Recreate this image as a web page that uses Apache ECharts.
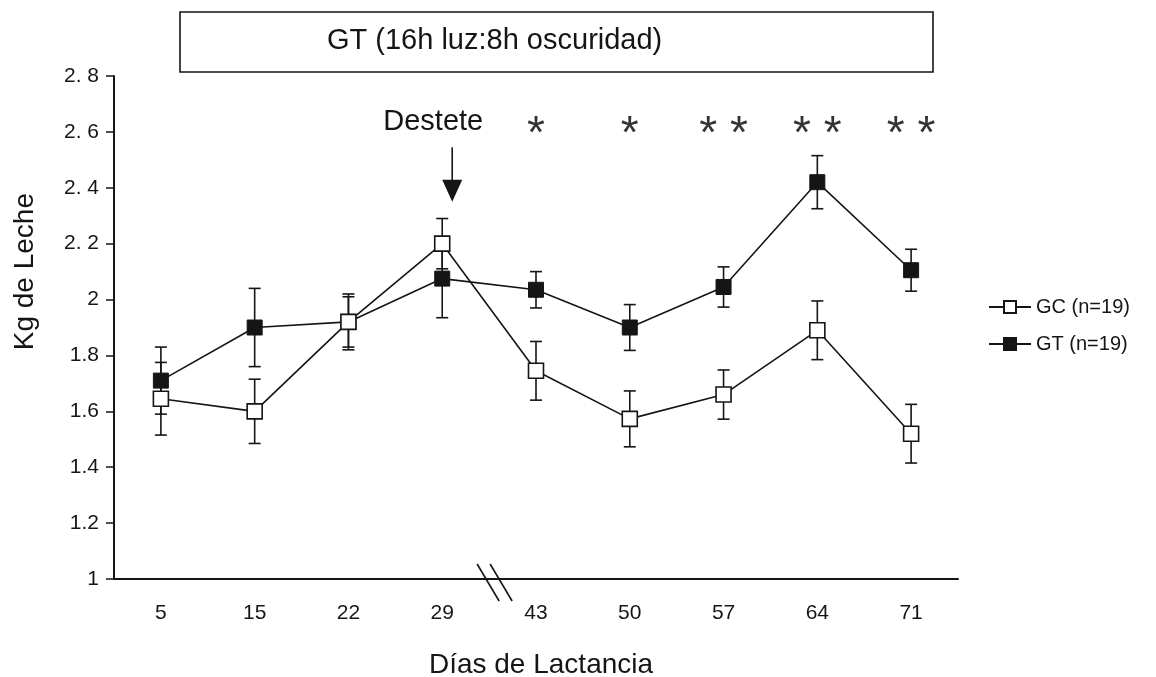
<!DOCTYPE html>
<html><head><meta charset="utf-8">
<script src="https://cdn.jsdelivr.net/npm/echarts@6/dist/echarts.min.js"></script>
<style>html,body{margin:0;padding:0;background:#fff}#c{width:1156px;height:677px}</style>
</head><body><div id="c"></div>
<script>
// ---- data ----
const days = ['5','15','22','29','43','50','57','64','71'];
const gcMean = [1.645, 1.60, 1.92, 2.20, 1.745, 1.573, 1.66, 1.89, 1.52];
const gcErr  = [0.13, 0.115, 0.09, 0.09, 0.105, 0.10, 0.088, 0.105, 0.105];
const gtMean = [1.71, 1.90, 1.92, 2.075, 2.035, 1.90, 2.045, 2.42, 2.105];
const gtErr  = [0.12, 0.14, 0.10, 0.14, 0.065, 0.082, 0.072, 0.095, 0.075];
const yTickLabels = ['1','1.2','1.4','1.6','1.8','2','2. 2','2. 4','2. 6','2. 8'];
const sigLabels = ['','','','','*','*','* *','* *','* *'];
const seriesNames = ['GC (n=19)', 'GT (n=19)'];
const titleText = 'GT (16h luz:8h oscuridad)';
const yAxisTitle = 'Kg de Leche';
const xAxisTitle = 'Días de Lactancia';
const weaningLabel = 'Destete';
const weaningIndex = 3;
const yMin = 1, yMax = 2.8, yStep = 0.2;

const FONT = '"Liberation Sans", Arial, sans-serif';
const INK = '#151515';

function errRender(params, api) {
  const i = api.value(0), m = api.value(1), e = api.value(2);
  const top = api.coord([i, m + e]);
  const bot = api.coord([i, m - e]);
  const hw = 6;
  const st = { stroke: INK, lineWidth: 1.6 };
  return {
    type: 'group',
    children: [
      { type: 'line', shape: { x1: top[0], y1: top[1], x2: bot[0], y2: bot[1] }, style: st },
      { type: 'line', shape: { x1: top[0] - hw, y1: top[1], x2: top[0] + hw, y2: top[1] }, style: st },
      { type: 'line', shape: { x1: bot[0] - hw, y1: bot[1], x2: bot[0] + hw, y2: bot[1] }, style: st }
    ]
  };
}

const chart = echarts.init(document.getElementById('c'), null, { renderer: 'canvas' });
chart.setOption({
  animation: false,
  backgroundColor: '#fff',
  textStyle: { fontFamily: FONT },
  grid: { left: 114, right: 198, top: 76, bottom: 98, containLabel: false, outerBoundsMode: 'none' },
  legend: {
    orient: 'vertical', left: 983, top: 292, itemGap: 17,
    itemWidth: 42, itemHeight: 15,
    textStyle: { fontSize: 20, color: INK, fontFamily: FONT },
    data: seriesNames
  },
  xAxis: {
    type: 'category', data: days, boundaryGap: true,
    name: xAxisTitle, nameLocation: 'middle', nameGap: 72,
    nameTextStyle: { fontSize: 28, color: INK, fontFamily: FONT, padding: [0, 0, 0, 10] },
    axisLine: { lineStyle: { color: INK, width: 2 } },
    axisTick: { inside: true, length: 8, alignWithLabel: true, lineStyle: { color: INK, width: 1.5 } },
    axisLabel: { margin: 24, fontSize: 21, color: INK, fontFamily: FONT },
    splitLine: { show: false }
  },
  yAxis: {
    type: 'value', min: yMin, max: yMax, interval: yStep,
    axisLine: { show: true, lineStyle: { color: INK, width: 2 } },
    axisTick: { show: true, length: 8, lineStyle: { color: INK, width: 1.5 } },
    axisLabel: {
      margin: 15, fontSize: 21, color: INK, fontFamily: FONT,
      formatter: v => yTickLabels[Math.round((v - yMin) / yStep)]
    },
    splitLine: { show: false }
  },
  series: [
    {
      type: 'custom', name: 'errGC', renderItem: errRender, z: 1,
      encode: { x: 0, y: 1 },
      data: days.map((d, i) => [i, gcMean[i], gcErr[i]])
    },
    {
      type: 'custom', name: 'errGT', renderItem: errRender, z: 1,
      encode: { x: 0, y: 1 },
      data: days.map((d, i) => [i, gtMean[i], gtErr[i]])
    },
    {
      type: 'line', name: seriesNames[1], data: gtMean, z: 3,
      symbol: 'rect', symbolSize: 15,
      lineStyle: { color: INK, width: 1.6 },
      itemStyle: { color: INK, borderColor: INK, borderWidth: 1 }
    },
    {
      type: 'line', name: seriesNames[0], data: gcMean, z: 4,
      symbol: 'rect', symbolSize: 15,
      lineStyle: { color: INK, width: 1.6 },
      itemStyle: { color: '#fff', borderColor: INK, borderWidth: 1.6 }
    },
    {
      type: 'scatter', name: 'sig', symbolSize: 0, silent: true, z: 5,
      data: days.map((d, i) => [i, 2.62]),
      label: {
        show: true, position: 'inside', offset: [0, 9],
        fontSize: 46, color: '#000', fontFamily: FONT,
        formatter: p => sigLabels[p.dataIndex]
      }
    }
  ]
});

// annotations positioned through the chart's own scales
const px = (i, v) => chart.convertToPixel({ xAxisIndex: 0, yAxisIndex: 0 }, [i, v]);
const p29 = px(weaningIndex, 2.635);
const arrowTop = px(weaningIndex, 2.545);
const arrowTip = px(weaningIndex, 2.35);
const ax = arrowTop[0] + 10;
const pa = px(3, yMin), pb = px(4, yMin);
const bx = (pa[0] + pb[0]) / 2 + 2, by = pa[1];
const yName = px(0, 2.1);
const lineSt = { stroke: INK, lineWidth: 1.6 };

chart.setOption({
  graphic: [
    { type: 'rect', shape: { x: 180, y: 12, width: 753, height: 60 },
      style: { fill: '#fff', stroke: INK, lineWidth: 1.6 }, z: 10 },
    { type: 'text', x: 327, y: 41, z: 11,
      style: { text: titleText, fontSize: 29, fontFamily: FONT, fill: INK, textVerticalAlign: 'middle' } },
    { type: 'text', x: 25, y: yName[1], rotation: Math.PI / 2, z: 11,
      style: { text: yAxisTitle, fontSize: 28, fontFamily: FONT, fill: INK, textAlign: 'center', textVerticalAlign: 'middle' } },
    { type: 'text', x: p29[0] - 9, y: p29[1], z: 11,
      style: { text: weaningLabel, fontSize: 29, fontFamily: FONT, fill: INK, textAlign: 'center', textVerticalAlign: 'middle' } },
    { type: 'line', shape: { x1: ax, y1: arrowTop[1], x2: ax, y2: arrowTip[1] - 18 }, style: lineSt, z: 11 },
    { type: 'polygon', shape: { points: [[ax - 10, arrowTip[1] - 22], [ax + 10, arrowTip[1] - 22], [ax, arrowTip[1]]] },
      style: { fill: INK }, z: 11 },
    { type: 'line', shape: { x1: bx - 14, y1: by - 15, x2: bx + 8, y2: by + 22 }, style: lineSt, z: 11 },
    { type: 'line', shape: { x1: bx - 1, y1: by - 15, x2: bx + 21, y2: by + 22 }, style: lineSt, z: 11 }
  ]
});
</script>
</body></html>
